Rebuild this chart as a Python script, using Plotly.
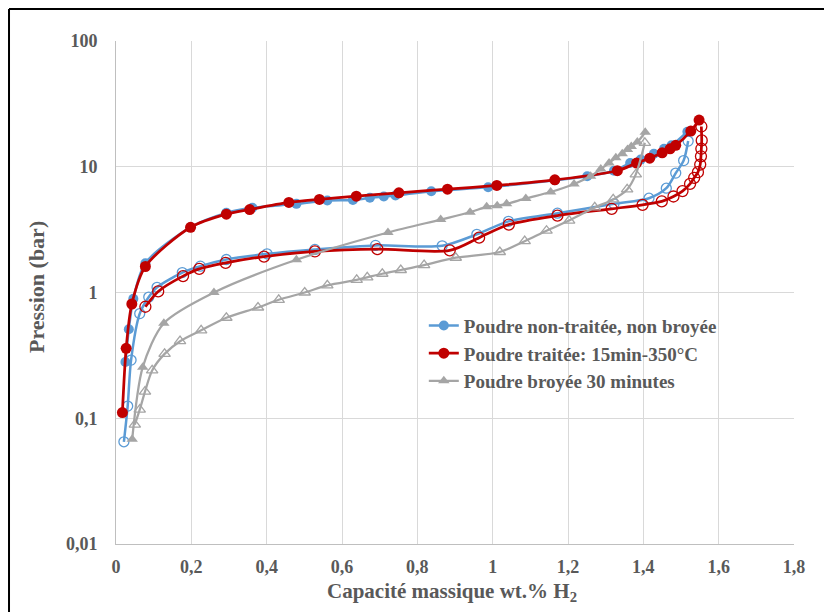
import plotly.graph_objects as go

# ---- data ----
blue_abs_x = [0.025, 0.034, 0.046, 0.078, 0.198, 0.293, 0.362, 0.479, 0.561, 0.629, 0.674, 0.711, 0.742,
              0.837, 0.988, 1.165, 1.251, 1.322, 1.365, 1.393, 1.428, 1.455, 1.475, 1.517]
blue_abs_y = [0.28, 0.51, 0.89, 1.71, 3.3, 4.3, 4.72, 5.07, 5.39, 5.44, 5.66, 5.8, 5.9,
              6.39, 6.88, 7.8, 8.4, 9.3, 10.7, 11.4, 12.7, 13.9, 14.8, 19.0]
blue_des_x = [1.519, 1.507, 1.486, 1.461, 1.415, 1.322, 1.172, 1.042, 0.958, 0.866, 0.689, 0.528,
              0.401, 0.293, 0.224, 0.176, 0.109, 0.087, 0.063, 0.040, 0.031, 0.021]
blue_des_y = [16.0, 11.2, 8.9, 6.75, 5.62, 5.07, 4.27, 3.68, 2.9, 2.35, 2.37, 2.2,
              2.03, 1.83, 1.62, 1.44, 1.10, 0.92, 0.68, 0.29, 0.125, 0.065]

red_abs_x = [0.017, 0.027, 0.042, 0.078, 0.198, 0.293, 0.355, 0.459, 0.540, 0.638, 0.751, 0.880,
             1.011, 1.165, 1.331, 1.382, 1.417, 1.45, 1.471, 1.486, 1.526, 1.548]
red_abs_y = [0.111, 0.36, 0.81, 1.61, 3.3, 4.2, 4.57, 5.2, 5.5, 5.83, 6.2, 6.63,
             7.1, 7.87, 9.3, 10.7, 11.7, 12.9, 13.9, 14.8, 19.2, 23.5]
red_des_x = [1.554, 1.555, 1.554, 1.553, 1.551, 1.545, 1.535, 1.524, 1.504, 1.48, 1.449, 1.398,
             1.316, 1.172, 1.043, 0.964, 0.886, 0.694, 0.528, 0.393, 0.291, 0.221, 0.178, 0.112, 0.078]
red_des_y = [20.9, 16.2, 13.9, 12.1, 10.4, 9.05, 8.17, 7.3, 6.4, 5.8, 5.3, 4.98,
             4.63, 4.09, 3.47, 2.73, 2.16, 2.21, 2.12, 1.93, 1.72, 1.54, 1.35, 1.02, 0.77]

gray_abs_x = [0.043, 0.071, 0.127, 0.26, 0.479, 0.722, 0.862, 0.94, 0.984, 1.012, 1.037, 1.088,
              1.154, 1.216, 1.26, 1.287, 1.309, 1.327, 1.344, 1.358, 1.368, 1.384, 1.405]
gray_abs_y = [0.068, 0.255, 0.57, 1.0, 1.82, 3.0, 3.8, 4.35, 4.8, 4.9, 5.07, 5.6,
              6.3, 7.3, 8.4, 9.6, 10.7, 11.8, 12.7, 13.7, 14.5, 15.7, 18.8]
gray_des_x = [1.404, 1.38, 1.357, 1.32, 1.271, 1.203, 1.143, 1.085, 1.019, 0.902, 0.818, 0.756,
              0.707, 0.667, 0.639, 0.561, 0.501, 0.432, 0.377, 0.293, 0.226, 0.17, 0.129, 0.096,
              0.077, 0.063, 0.050]
gray_des_y = [15.5, 8.7, 6.6, 5.5, 4.75, 3.73, 3.1, 2.56, 2.1, 1.89, 1.65, 1.51,
              1.41, 1.32, 1.26, 1.14, 1.0, 0.875, 0.76, 0.63, 0.50, 0.41, 0.325, 0.24,
              0.163, 0.117, 0.089]

series_names = ["Poudre non-traitée, non broyée", "Poudre traitée: 15min-350°C", "Poudre broyée 30 minutes"]

x_tickvals = [0, 0.2, 0.4, 0.6, 0.8, 1.0, 1.2, 1.4, 1.6, 1.8]
x_ticktext = ["0", "0,2", "0,4", "0,6", "0,8", "1", "1,2", "1,4", "1,6", "1,8"]
y_tickvals = [0.01, 0.1, 1, 10, 100]
y_ticktext = ["0,01", "0,1", "1", "10", "100"]

# ---- styling ----
BLUE = "#5B9BD5"
RED = "#C00000"
GRAY = "#A5A5A5"
TXT = "#595959"
FONT = "Liberation Serif"

fig = go.Figure()

def add_pair(ax, ay, dx, dy, color, symbol, name, lw, msize):
    fig.add_trace(go.Scatter(
        x=dx, y=dy, mode="lines+markers", showlegend=False, name=name,
        line=dict(color=color, width=lw, shape="spline", smoothing=0.8),
        marker=dict(symbol=symbol + "-open", size=msize, color=color, line=dict(width=1.3, color=color)),
    ))
    fig.add_trace(go.Scatter(
        x=ax, y=ay, mode="lines+markers", name=name,
        line=dict(color=color, width=lw, shape="spline", smoothing=0.8),
        marker=dict(symbol=symbol, size=msize, color=color),
    ))

add_pair(blue_abs_x, blue_abs_y, blue_des_x, blue_des_y, BLUE, "circle", series_names[0], 2.5, 10)
add_pair(red_abs_x, red_abs_y, red_des_x, red_des_y, RED, "circle", series_names[1], 2.75, 11)
add_pair(gray_abs_x, gray_abs_y, gray_des_x, gray_des_y, GRAY, "triangle-up", series_names[2], 2.25, 10)

# page body has an 8px margin, so the figure is sized/placed to compensate
fig.update_layout(
    width=824, height=604,
    margin=dict(l=108, r=38, t=33, b=68),
    paper_bgcolor="white", plot_bgcolor="white",
    font=dict(family=FONT, color=TXT, size=18),
    showlegend=True,
    legend=dict(
        x=0.454, y=0.472, xanchor="left", yanchor="top",
        bgcolor="rgba(0,0,0,0)", borderwidth=0,
        font=dict(family=FONT, size=19, color=TXT, weight="bold"),
        tracegroupgap=0, itemwidth=30,
    ),
    xaxis=dict(
        range=[0, 1.8], tickvals=x_tickvals, ticktext=x_ticktext,
        showgrid=True, gridcolor="#D9D9D9", gridwidth=1,
        showline=True, linecolor="#BFBFBF", linewidth=1,
        zeroline=False, ticks="", ticklabelstandoff=6,
        tickfont=dict(family=FONT, size=18, color=TXT, weight="bold"),
    ),
    yaxis=dict(
        type="log", range=[-2, 2], tickvals=y_tickvals, ticktext=y_ticktext,
        showgrid=True, gridcolor="#D9D9D9", gridwidth=1,
        showline=True, linecolor="#BFBFBF", linewidth=1,
        zeroline=False, ticks="", ticklabelstandoff=14,
        tickfont=dict(family=FONT, size=18, color=TXT, weight="bold"),
    ),
    annotations=[
        dict(text="Capacité massique wt.% H<sub>2</sub>", xref="paper", yref="paper",
             x=0.4956, y=-0.0954, xanchor="center", yanchor="middle", showarrow=False,
             font=dict(family=FONT, size=21, color=TXT, weight="bold")),
        dict(text="Pression (bar)", xref="paper", yref="paper",
             x=-0.1165, y=0.511, xanchor="center", yanchor="middle", showarrow=False,
             textangle=-90, font=dict(family=FONT, size=22, color=TXT, weight="bold")),
    ],
    shapes=[
        dict(type="line", xref="paper", yref="paper", x0=-0.1578, x1=1.1, y0=1.0636, y1=1.0636,
             line=dict(color="black", width=2)),
        dict(type="line", xref="paper", yref="paper", x0=-0.1578, x1=-0.1578, y0=1.0636, y1=-0.15,
             line=dict(color="black", width=2)),
    ],
)

fig.write_html("out.html")
